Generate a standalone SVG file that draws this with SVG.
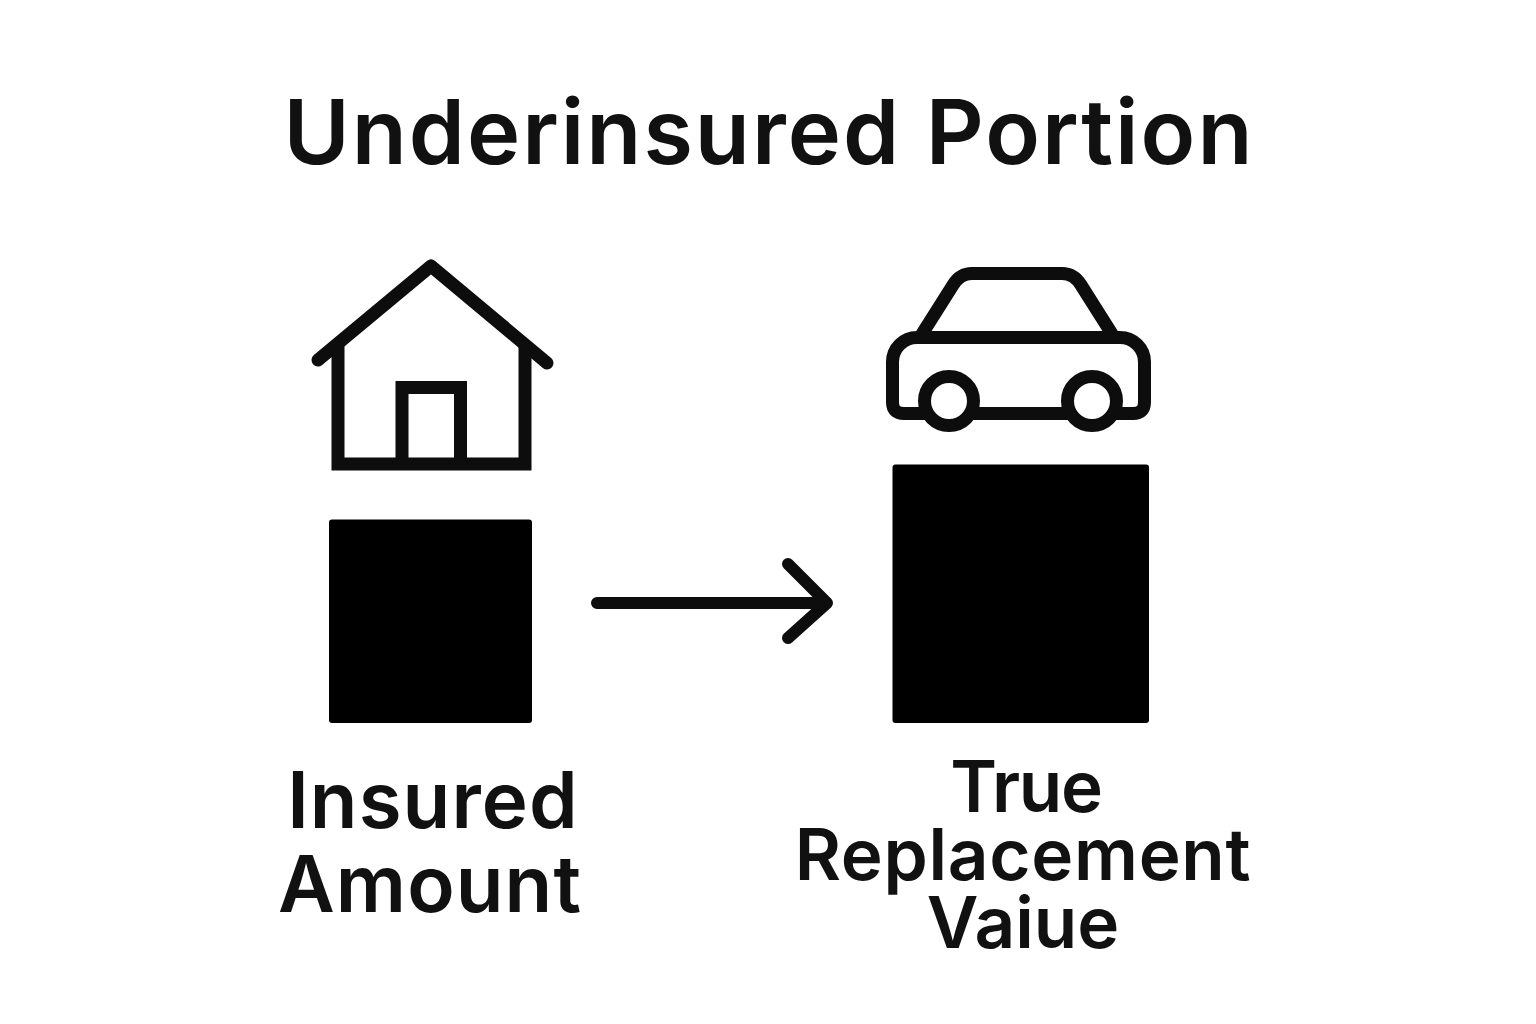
<svg xmlns="http://www.w3.org/2000/svg" width="1536" height="1024" viewBox="0 0 1536 1024">
<style>
text{font-family:Inter,"Liberation Sans",sans-serif;font-weight:600;fill:#111;text-anchor:middle}
.t{font-size:90px;letter-spacing:2px}
.l{font-size:78px;letter-spacing:1.100px}
.m{font-size:71px;letter-spacing:0.700px}
.s{fill:none;stroke:#0d0d0d;stroke-width:13;stroke-linecap:round;stroke-linejoin:round}
.w{stroke-linejoin:miter;stroke-linecap:butt}
.b{fill:#000}
</style>
<rect width="1536" height="1024" fill="#fff"/>
<g id="title"><text class="t" x="769" y="164">Underinsured Portion</text></g>
<g id="house">
<path class="s" d="M318 360L431 266L547 363"/>
<path class="s w" d="M338 345V464H525V345"/>
<path class="s w" d="M402 464V387.500H460.500V464"/>
</g>
<g id="car">
<path class="s" d="M922 334L953 285Q960 273.500 972 273.500H1062Q1074 273.500 1081 285L1112 334"/>
<path class="s" d="M925 413.500H904Q892.500 413.500 892.500 402V362A24.500 24.500 0 0 1 917 337.500H1120A24.500 24.500 0 0 1 1144.500 362V402Q1144.500 413.500 1133 413.500H1117M973 413.500H1067"/>
<circle class="s" cx="949" cy="401" r="24.500"/>
<circle class="s" cx="1092" cy="401" r="24.500"/>
</g>
<g id="insured-bar"><rect class="b" x="329" y="519.500" width="203" height="203.500" rx="3"/></g>
<g id="replacement-bar"><rect class="b" x="892.500" y="464.500" width="256.500" height="258.500" rx="3"/></g>
<g id="connectors"><path class="s" d="M597 603H827M788 564L827 603L788 638" style="stroke-width:12"/></g>
<g id="insured-label">
<text class="l" x="433" y="828">Insured</text>
<text class="l" x="430" y="912">Amount</text>
</g>
<g id="replacement-label">
<text class="m" x="1026" y="812" style="letter-spacing:-1.300px">True</text>
<text class="m" x="1023" y="880">Replacement</text>
<text class="m" x="1023" y="948" style="letter-spacing:0">Vaiue</text>
</g>
</svg>
